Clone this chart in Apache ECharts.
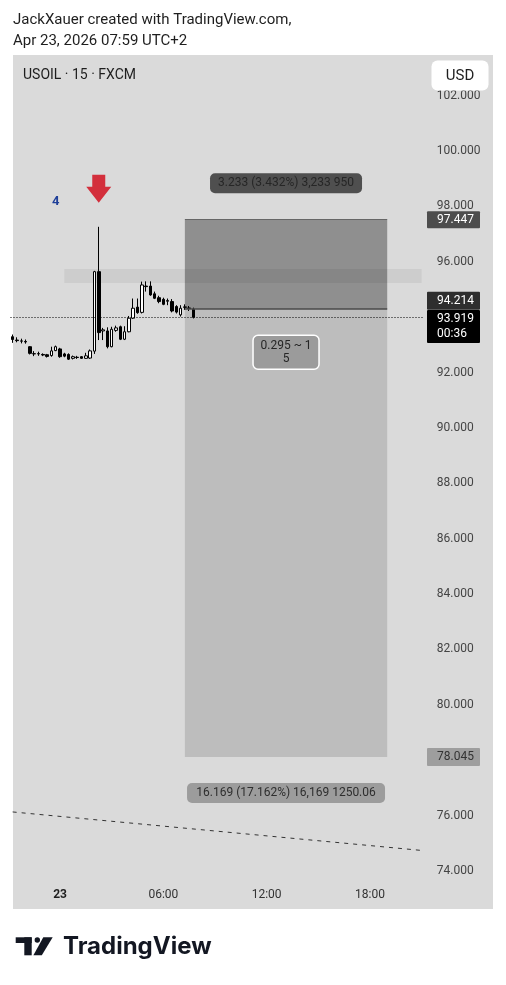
<!DOCTYPE html>
<html>
<head>
<meta charset="utf-8">
<script src="https://cdn.jsdelivr.net/npm/echarts@6/dist/echarts.min.js"></script>
<style>
html, body { margin: 0; padding: 0; background: #fff; }
#chart { width: 506px; height: 985px; }
</style>
</head>
<body>
<div id="chart"></div>
<script>
// USOIL 15m candles, 22 Apr 21:15 -> 23 Apr 07:45 : [open, close, low, high]
const ohlc = [
  [93.22, 93.12, 93.00, 93.30],
  [93.10, 93.08, 93.02, 93.20],
  [93.06, 93.07, 92.98, 93.15],
  [93.05, 93.03, 92.97, 93.12],
  [92.86, 92.62, 92.58, 92.88],
  [92.60, 92.61, 92.52, 92.70],
  [92.61, 92.60, 92.53, 92.68],
  [92.58, 92.56, 92.52, 92.62],
  [92.57, 92.51, 92.47, 92.60],
  [92.54, 92.71, 92.50, 92.86],
  [92.72, 92.86, 92.70, 92.90],
  [92.78, 92.50, 92.46, 92.82],
  [92.60, 92.52, 92.48, 92.64],
  [92.58, 92.41, 92.38, 92.62],
  [92.44, 92.50, 92.40, 92.54],
  [92.48, 92.47, 92.42, 92.53],
  [92.50, 92.44, 92.42, 92.52],
  [92.44, 92.53, 92.42, 92.64],
  [92.45, 92.71, 92.42, 92.76],
  [92.70, 95.57, 92.60, 95.60],
  [95.57, 93.37, 93.10, 97.19],
  [93.43, 93.47, 93.10, 93.54],
  [93.43, 92.86, 92.80, 93.56],
  [92.86, 93.49, 92.84, 93.58],
  [93.45, 93.54, 93.40, 93.62],
  [93.58, 93.13, 93.10, 93.62],
  [93.13, 93.40, 93.10, 93.60],
  [93.40, 93.89, 93.38, 93.97],
  [93.89, 94.25, 93.86, 94.60],
  [94.29, 94.09, 94.05, 94.60],
  [94.10, 95.09, 94.06, 95.21],
  [95.05, 95.03, 94.85, 95.22],
  [95.05, 94.73, 94.70, 95.22],
  [94.77, 94.61, 94.58, 94.85],
  [94.63, 94.49, 94.43, 94.70],
  [94.57, 94.39, 94.36, 94.63],
  [94.50, 94.53, 94.36, 94.60],
  [94.49, 94.15, 94.10, 94.58],
  [94.31, 94.11, 94.06, 94.36],
  [94.01, 94.25, 93.95, 94.36],
  [94.28, 94.30, 94.19, 94.39],
  [94.26, 94.24, 94.15, 94.33],
  [94.21, 93.92, 93.88, 94.27]
];

// time slots (15 min) shown on the x axis, 21:15 -> 21:00 next day
const slotCount = 96;
const times = [];
for (let k = 0; k < slotCount; k++) {
  const m = (21 * 60 + 15 + k * 15) % 1440;
  times.push(String(Math.floor(m / 60)).padStart(2, "0") + ":" + String(m % 60).padStart(2, "0"));
}
const timeLabels = { "00:00": "23", "06:00": "06:00", "12:00": "12:00", "18:00": "18:00" };

// price axis
const priceMin = 74;
const priceMax = 102;
const priceStep = 2;
const lastPrice = 93.919;
const countdown = "00:36";

// short position tool
const posFrom = 40;
const posTo = 87;
const entryPrice = 94.214;
const stopPrice = 97.447;
const targetPrice = 78.045;
const stopText = "3.233 (3.432%) 3,233 950";
const ratioText = "0.295 ~ 1\n5";
const targetText = "16.169 (17.162%) 16,169 1250.06";

// resistance zone
const zoneFrom = 12;
const zoneTop = 95.67;
const zoneBottom = 95.16;

// dashed trend line ends
const trendIdx = [0, 95];
const trendVal = [76.06, 74.67];

// signal marks
const arrowIdx = 20;
const arrowVal = 98.56;
const countIdx = 10;
const countVal = 98.1;

const font = "Roboto, 'Noto Sans', sans-serif";
let chart = echarts.init(document.getElementById("chart"));

let staticGraphic = [
  { type: "rect", z: -10, shape: { x: 13, y: 55, width: 480, height: 854 }, style: { fill: "#dadada" } },
  { type: "text", z: 100, style: { text: "JackXauer created with TradingView.com,", x: 13, y: 20, fill: "#1e1e1e", font: "15px " + font, verticalAlign: "middle" } },
  { type: "text", z: 100, style: { text: "Apr 23, 2026 07:59 UTC+2", x: 13, y: 41, fill: "#1e1e1e", font: "15px " + font, verticalAlign: "middle" } },
  { type: "text", z: 100, style: { text: "USOIL · 15 · FXCM", x: 23, y: 75, fill: "#1e1e1e", font: "14px " + font, verticalAlign: "middle" } },
  { type: "rect", z: 100, shape: { x: 431.5, y: 60.5, width: 57, height: 30, r: 6 }, style: { fill: "#fff" } },
  { type: "text", z: 101, style: { text: "USD", x: 460, y: 76, fill: "#1e1e1e", font: "15px " + font, align: "center", verticalAlign: "middle" } },
  // TradingView logo
  { type: "rect", z: 100, shape: { x: 15.7, y: 937.3, width: 16, height: 5.7 }, style: { fill: "#131722" } },
  { type: "rect", z: 100, shape: { x: 24.3, y: 937.3, width: 7.4, height: 18 }, style: { fill: "#131722" } },
  { type: "circle", z: 100, shape: { cx: 37.3, cy: 940, r: 2.7 }, style: { fill: "#131722" } },
  { type: "polygon", z: 100, shape: { points: [[43.3, 937.3], [52.7, 937.3], [41.8, 955.3], [33.4, 955.3]] }, style: { fill: "#131722" } },
  { type: "text", z: 100, style: { text: "TradingView", x: 63, y: 947, fill: "#131722", font: "bold 24px Inter, " + font, verticalAlign: "middle" } }
];

let option = {
  animation: false,
  backgroundColor: "#fff",
  graphic: staticGraphic,
  grid: { left: 10.5, right: 82.2, top: 93.6, bottom: 116 },
  xAxis: {
    type: "category",
    data: times,
    boundaryGap: true,
    axisLine: { show: false },
    axisTick: { show: false },
    splitLine: { show: false },
    axisLabel: {
      margin: 20,
      fontSize: 12,
      fontFamily: font,
      color: "#333",
      interval: (idx, val) => timeLabels[val] !== undefined,
      formatter: val => val === "00:00" ? "{b|23}" : timeLabels[val],
      rich: { b: { fontWeight: "bold", fontSize: 12, fontFamily: font, color: "#1e1e1e" } }
    }
  },
  yAxis: {
    type: "value",
    position: "right",
    min: priceMin,
    max: priceMax,
    interval: priceStep,
    axisLine: { show: false },
    axisTick: { show: false },
    splitLine: { show: false },
    axisLabel: {
      margin: 13,
      formatter: v => "{p|" + v.toFixed(3) + "}",
      rich: { p: { fontSize: 12, fontFamily: font, color: "#444", padding: [4, 0, 0, 0] } }
    }
  },
  series: [
    {
      name: "position",
      type: "line",
      z: 1,
      data: [],
      silent: true,
      markArea: {
        silent: true,
        data: [
          [{ xAxis: times[posFrom], yAxis: stopPrice, itemStyle: { color: "#8f8f8f" } }, { xAxis: times[posTo], yAxis: entryPrice }],
          [{ xAxis: times[posFrom], yAxis: entryPrice, itemStyle: { color: "#bdbdbd" } }, { xAxis: times[posTo], yAxis: targetPrice }]
        ]
      },
      markLine: {
        silent: true,
        symbol: "none",
        label: { show: false },
        data: [
          [{ coord: [times[posFrom], stopPrice], lineStyle: { color: "#666", width: 1, type: "solid" } }, { coord: [times[posTo], stopPrice] }],
          [{ coord: [times[posFrom], entryPrice], lineStyle: { color: "#4a4a4a", width: 1.5, type: "solid" } }, { coord: [times[posTo], entryPrice] }]
        ]
      }
    },
    {
      name: "zone",
      type: "line",
      z: 1.5,
      data: [],
      silent: true,
      markArea: {
        silent: true,
        itemStyle: { color: "rgba(0,0,0,0.06)" },
        data: [[{ xAxis: times[zoneFrom], yAxis: zoneTop }, { xAxis: times[slotCount - 1], yAxis: zoneBottom }]]
      }
    },
    {
      name: "trend",
      type: "line",
      data: trendIdx.map((k, i) => [times[k], trendVal[i]]),
      showSymbol: false,
      silent: true,
      lineStyle: { color: "#333", width: 1, type: [4, 5] }
    },
    {
      name: "USOIL",
      type: "candlestick",
      z: 3,
      barWidth: 3,
      data: ohlc,
      itemStyle: { color: "#fff", color0: "#000", borderColor: "#000", borderColor0: "#000", borderWidth: 1 },
      markLine: {
        silent: true,
        symbol: "none",
        label: { show: false },
        lineStyle: { color: "#000", width: 1, type: [1, 2] },
        data: [{ yAxis: lastPrice }]
      }
    },
    {
      name: "arrow",
      type: "scatter",
      z: 4,
      silent: true,
      data: [[times[arrowIdx], arrowVal]],
      symbol: "path://M6,0 L19,0 L19,12 L25,12 L12.5,28 L0,12 L6,12 Z",
      symbolSize: [25, 28],
      itemStyle: { color: "#d32f3c", opacity: 1 }
    },
    {
      name: "count",
      type: "scatter",
      z: 4,
      silent: true,
      data: [[times[countIdx], countVal]],
      symbolSize: 1,
      itemStyle: { color: "rgba(0,0,0,0)", opacity: 1 },
      label: { show: true, position: "inside", formatter: "4", color: "#1f3f99", fontWeight: "bold", fontSize: 13, fontFamily: font }
    }
  ]
};

chart.setOption(option);

// labels pinned to prices through the chart's scales
let px = (k, v) => chart.convertToPixel({ gridIndex: 0 }, [times[k], v]);
let xL = px(posFrom, entryPrice)[0];
let xR = px(posTo, entryPrice)[0];
let xMid = (xL + xR) / 2;
let yStop = px(posFrom, stopPrice)[1];
let yEntry = px(posFrom, entryPrice)[1];
let yTarget = px(posFrom, targetPrice)[1];
let yLast = px(posFrom, lastPrice)[1];

function tag(y, h, fill, text, color) {
  return [
    { type: "rect", z: 100, shape: { x: 427, y: y, width: 53, height: h, r: 1 }, style: { fill: fill } },
    { type: "text", z: 101, style: { text: text, x: 437, y: y + h / 2, fill: color, font: "12px " + font, verticalAlign: "middle", lineHeight: 15 } }
  ];
}
function box(cx, cy, w, h, fill, text, color, stroke) {
  return [
    { type: "rect", z: 90, shape: { x: cx - w / 2, y: cy - h / 2, width: w, height: h, r: 5 }, style: { fill: fill, stroke: stroke || null, lineWidth: stroke ? 1.5 : 0 } },
    { type: "text", z: 91, style: { text: text, x: cx, y: cy, fill: color, font: "12px " + font, align: "center", verticalAlign: "middle", lineHeight: 13 } }
  ];
}

let dyn = [].concat(
  tag(yStop - 8.5, 17, "#4d4d4d", stopPrice.toFixed(3), "#fff"),
  tag(yEntry - 17.5, 18, "#2e2e2e", entryPrice.toFixed(3), "#fff"),
  tag(yLast - 7.4, 33, "#000", lastPrice.toFixed(3) + "\n" + countdown, "#fff"),
  tag(yTarget - 9, 18, "#9e9e9e", targetPrice.toFixed(3), "#333"),
  box(xMid, yStop - 36.4, 152, 20, "#4f4f4f", stopText, "#262626"),
  box(xMid, yEntry + 43, 66, 34, "#9b9b9b", ratioText, "#262626", "#fff"),
  box(xMid, yTarget + 36, 198, 20, "#9c9c9c", targetText, "#2e2e2e")
);

chart.setOption({ graphic: staticGraphic.concat(dyn) });
</script>
</body>
</html>
